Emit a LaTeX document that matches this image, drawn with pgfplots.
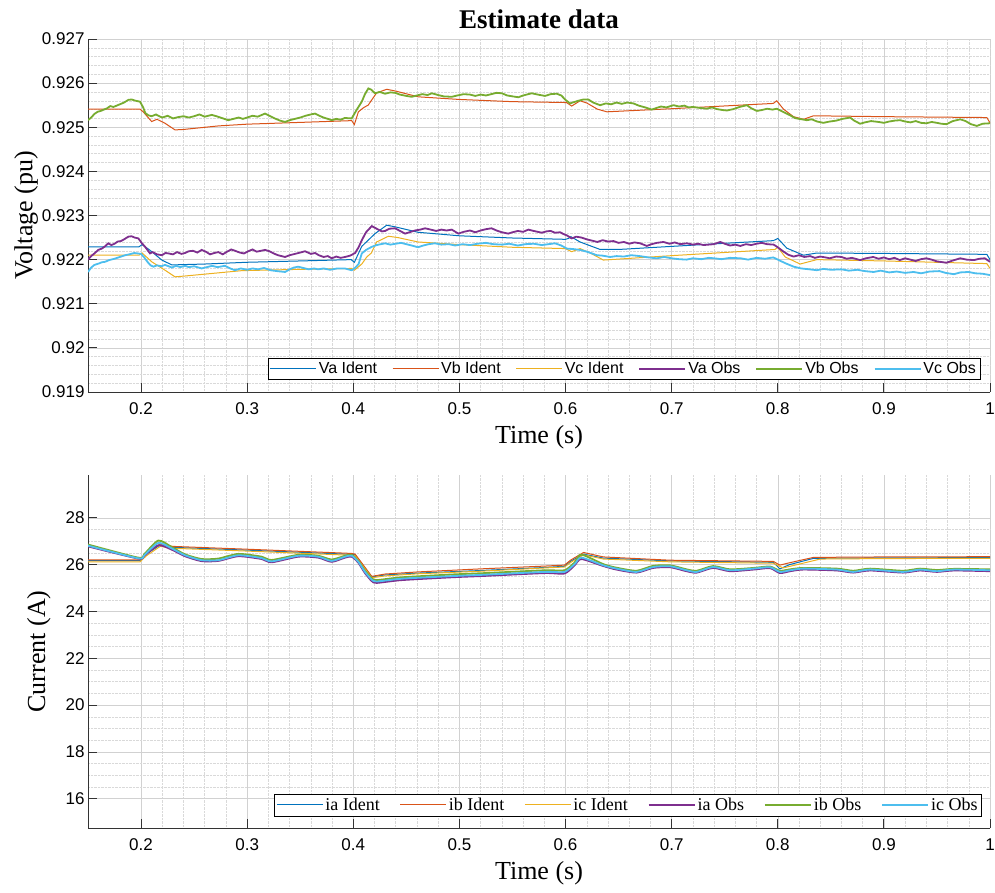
\documentclass[border=0pt]{standalone}
\usepackage{pgfplots}
\pgfplotsset{compat=1.18}
\usepackage{fontspec}
\setmainfont{Liberation Serif}
\setsansfont{Liberation Sans}

\definecolor{mA}{rgb}{0,0.447,0.741}
\definecolor{mB}{rgb}{0.85,0.325,0.098}
\definecolor{mC}{rgb}{0.929,0.694,0.125}
\definecolor{mD}{rgb}{0.494,0.184,0.556}
\definecolor{mE}{rgb}{0.466,0.674,0.188}
\definecolor{mF}{rgb}{0.301,0.745,0.933}

\pgfplotsset{
  legend image code/.code={\draw[#1] (0pt,0pt) -- (46pt,0pt);},
  identA/.style={draw=mA, line width=1pt},
  identB/.style={draw=mB, line width=1pt},
  identC/.style={draw=mC, line width=1pt},
  obsA/.style={draw=mD, line width=1.8pt},
  obsB/.style={draw=mE, line width=1.8pt},
  obsC/.style={draw=mF, line width=1.8pt},
  matlab/.style={
    scale only axis, width=902pt, height=353pt,
    xmin=0.15, xmax=1, xtick={0.2,0.3,...,1.0},
    minor x tick num=4,
    axis x line*=bottom, axis y line*=left,
    axis line style={-, draw=black!80, line width=0.8pt},
    tick align=inside, major tick length=9pt, minor tick length=0pt,
    tick style={black!80, line width=0.8pt},
    grid=both,
    major grid style={black!18, line width=0.5pt},
    minor grid style={black!15, densely dotted, line width=0.5pt},
    /pgf/number format/assume math mode=true,
    ticklabel style={font=\sffamily\fontsize{17}{20}\selectfont},
    xticklabel style={yshift=-7pt},
    label style={font=\fontsize{26}{30}\selectfont},
    xlabel style={yshift=-4pt},
    xlabel={Time (s)},
    legend columns=6,
    legend cell align=left,
    legend style={fill=white, inner sep=2pt},
  }
}

\begin{document}
\begin{tikzpicture}
\useasboundingbox (0,0) rectangle (995pt,892pt);
\node[font=\bfseries\fontsize{27}{32}\selectfont] at (539pt,873pt) {Estimate data};

\begin{axis}[matlab, at={(88pt,500pt)}, anchor=south west,
  ymin=0.919, ymax=0.927, ytick={0.919,0.920,...,0.927},
  minor y tick num=4,
  yticklabel style={/pgf/number format/fixed, /pgf/number format/precision=3},
  ylabel={Voltage (pu)}, ylabel style={yshift=-3pt},
  legend style={at={(0.989,0.0355)}, anchor=south east, font=\sffamily\fontsize{16}{19}\selectfont,
    /tikz/every even column/.append style={column sep=13pt}},
]
\addplot[identA] coordinates {(0.15,0.92229) (0.198,0.92229) (0.201,0.92234) (0.208,0.92222) (0.2196,0.92199) (0.229,0.92188) (0.26,0.92190) (0.3,0.92194) (0.35,0.92197) (0.398,0.92200) (0.401,0.92194) (0.408,0.92230) (0.4205,0.92259) (0.4315,0.92278) (0.44,0.92274) (0.461,0.92262) (0.5,0.92254) (0.55,0.92249) (0.6,0.92246) (0.6027,0.92248) (0.605,0.92252) (0.6137,0.92240) (0.6326,0.92223) (0.65,0.92223) (0.7,0.92230) (0.75,0.92237) (0.7958,0.92243) (0.8,0.92248) (0.8085,0.92226) (0.8242,0.92210) (0.8368,0.92215) (0.9,0.92214) (0.997,0.92212) (1.0,0.92200)};
\addlegendentry{Va Ident}
\addplot[identB] coordinates {(0.15,0.92541) (0.199,0.92541) (0.202,0.92535) (0.206,0.92524) (0.21,0.92513) (0.215,0.92518) (0.2226,0.92509) (0.232,0.92494) (0.24,0.92495) (0.2728,0.92503) (0.3,0.92507) (0.35,0.92511) (0.3985,0.92515) (0.401,0.92506) (0.4048,0.92535) (0.41,0.92545) (0.414,0.92550) (0.4174,0.92562) (0.422,0.92578) (0.4315,0.92586) (0.44,0.92582) (0.461,0.92569) (0.5,0.92563) (0.55,0.92558) (0.601,0.92556) (0.6058,0.92548) (0.6137,0.92560) (0.62,0.92555) (0.63,0.92541) (0.6389,0.92535) (0.7,0.92542) (0.7958,0.92554) (0.799,0.9256) (0.8054,0.92541) (0.8148,0.92524) (0.8243,0.92518) (0.8337,0.92526) (0.9,0.92524) (0.997,0.92522) (1.0,0.9251)};
\addlegendentry{Vb Ident}
\addplot[identC] coordinates {(0.15,0.92210) (0.198,0.92210) (0.201,0.92215) (0.2101,0.92195) (0.2226,0.92176) (0.232,0.92161) (0.242,0.92163) (0.2948,0.92175) (0.35,0.92178) (0.3985,0.92180) (0.401,0.92176) (0.408,0.92190) (0.4127,0.92206) (0.417,0.92215) (0.422,0.92240) (0.4331,0.92253) (0.442,0.92250) (0.461,0.92240) (0.5,0.92234) (0.55,0.92228) (0.6,0.92225) (0.6058,0.92218) (0.6137,0.92225) (0.6232,0.92215) (0.6357,0.92199) (0.7,0.92209) (0.7974,0.92223) (0.8,0.92228) (0.807,0.92206) (0.8211,0.92190) (0.8368,0.92200) (0.9,0.92197) (0.997,0.92191) (1.0,0.92180)};
\addlegendentry{Vc Ident}
\addplot[obsA] coordinates {(0.15,.92200) (.153,.92208) (.156,.92214) (.1597,.92222) (.163,.92225) (.166,.92230) (.1691,.92237) (.172,.92233) (.175,.92236) (.178,.92241) (.181,.92242) (.184,.92246) (.188,.92252) (.191,.92253) (.194,.92250) (.1975,.92248) (.2005,.92238) (.2038,.92229) (.2085,.92214) (.211,.92217) (.215,.92212) (.2196,.92210) (.223,.92215) (.226,.92214) (.23,.92212) (.234,.92217) (.238,.92213) (.2414,.92215) (.245,.92219) (.249,.92220) (.253,.92216) (.2571,.92222) (.261,.92218) (.265,.92212) (.269,.92215) (.2728,.92217) (.277,.92212) (.281,.92218) (.285,.92223) (.2886,.92220) (.293,.92216) (.297,.92214) (.301,.92219) (.305,.92223) (.309,.92218) (.313,.92220) (.3168,.92222) (.321,.92219) (.325,.92214) (.329,.92210) (.3357,.92206) (.34,.92210) (.345,.92213) (.35,.92216) (.3545,.92219) (.36,.92213) (.364,.92215) (.3675,.92210) (.372,.92206) (.376,.92208) (.3797,.92203) (.384,.92207) (.388,.92204) (.3922,.92206) (.397,.92209) (.4017,.92215) (.405,.92228) (.408,.92244) (.412,.92262) (.4174,.92276) (.4205,.92272) (.4236,.92268) (.427,.92264) (.43,.92265) (.434,.92270) (.4394,.92271) (.444,.92265) (.4488,.92259) (.453,.92262) (.458,.92266) (.463,.92268) (.4677,.92271) (.473,.92268) (.478,.92265) (.483,.92268) (.488,.92266) (.4928,.92268) (.499,.92259) (.504,.92263) (.51,.92266) (.515,.92262) (.52,.92266) (.525,.92269) (.5303,.92271) (.535,.92266) (.54,.92262) (.546,.92259) (.55,.92262) (.555,.92265) (.56,.92263) (.565,.92268) (.57,.92265) (.5776,.92261) (.582,.92264) (.586,.92265) (.59,.92261) (.595,.92262) (.598,.92258) (.6012,.92255) (.6058,.92248) (.61,.92252) (.615,.92250) (.62,.92246) (.625,.92243) (.63,.92240) (.635,.92244) (.64,.92241) (.6452,.92242) (.65,.92238) (.655,.92240) (.66,.92236) (.665,.92239) (.6703,.92237) (.6766,.92231) (.681,.92235) (.686,.92238) (.6923,.92240) (.698,.92236) (.703,.92239) (.708,.92235) (.7143,.92237) (.72,.92234) (.725,.92236) (.73,.92233) (.7395,.92235) (.7458,.92240) (.75,.92236) (.755,.92232) (.76,.92234) (.7647,.92231) (.77,.92235) (.775,.92233) (.78,.92236) (.785,.92238) (.79,.92235) (.7961,.92234) (.8,.92228) (.8055,.92218) (.81,.92211) (.815,.92207) (.82,.92210) (.825,.92206) (.8305,.92208) (.835,.92204) (.84,.92207) (.845,.92205) (.849,.92203) (.855,.92207) (.86,.92206) (.865,.92202) (.87,.92204) (.8776,.92199) (.883,.92203) (.89,.92206) (.895,.92202) (.9,.92205) (.905,.92201) (.91,.92204) (.915,.92199) (.92,.92203) (.925,.92200) (.93,.92197) (.935,.92201) (.94,.92203) (.945,.92200) (.95,.92196) (.9588,.92193) (.965,.92198) (.972,.92203) (.978,.92200) (.985,.92199) (.99,.92202) (.995,.92203) (1.0,.92195)};
\addlegendentry{Va Obs}
\addplot[obsB] coordinates {(.15,.92516) (.153,.92522) (.156,.92530) (.159,.92535) (.162,.92537) (.165,.92540) (.168,.92543) (.171,.92548) (.174,.92546) (.177,.92549) (.18,.92552) (.184,.92556) (.188,.92562) (.191,.92563) (.195,.92560) (.199,.92558) (.202,.92545) (.204,.92532) (.207,.92527) (.21,.92525) (.214,.92529) (.218,.92524) (.22,.92522) (.225,.92526) (.23,.92520) (.235,.92523) (.24,.92525) (.245,.92522) (.25,.92525) (.255,.92529) (.26,.92524) (.2666,.92528) (.271,.92525) (.276,.92521) (.2822,.92516) (.287,.92519) (.292,.92522) (.296,.92519) (.3,.92522) (.305,.92526) (.31,.92524) (.3168,.92531) (.321,.92526) (.326,.92520) (.331,.92515) (.3357,.92512) (.34,.92516) (.345,.92519) (.35,.92522) (.355,.92526) (.36,.92529) (.364,.92531) (.368,.92526) (.372,.92522) (.376,.92519) (.3797,.92516) (.384,.92519) (.388,.92517) (.392,.92521) (.3985,.92520) (.4033,.92540) (.408,.92558) (.411,.92575) (.4142,.92588) (.417,.92585) (.4205,.92577) (.425,.92580) (.43,.92576) (.435,.92579) (.4394,.92578) (.444,.92574) (.45,.92571) (.455,.92569) (.46,.92572) (.465,.92575) (.47,.92573) (.474,.92577) (.48,.92573) (.485,.92570) (.4928,.92569) (.498,.92572) (.504,.92575) (.51,.92574) (.515,.92571) (.52,.92574) (.525,.92572) (.53,.92575) (.535,.92578) (.54,.92577) (.545,.92572) (.55,.92570) (.5556,.92568) (.56,.92572) (.5682,.92577) (.574,.92574) (.5807,.92571) (.586,.92575) (.5917,.92576) (.596,.92572) (.6,.92562) (.6043,.92554) (.608,.92557) (.612,.92560) (.617,.92563) (.6215,.92563) (.626,.92556) (.6326,.92550) (.638,.92554) (.643,.92552) (.648,.92556) (.653,.92553) (.658,.92556) (.664,.92554) (.669,.92549) (.675,.92545) (.6813,.92540) (.686,.92544) (.69,.92547) (.695,.92545) (.7018,.92550) (.707,.92547) (.712,.92549) (.716,.92545) (.72,.92546) (.726,.92544) (.7332,.92542) (.738,.92545) (.743,.92541) (.748,.92539) (.752,.92538) (.758,.92541) (.764,.92546) (.7709,.92550) (.775,.92543) (.7803,.92537) (.785,.92539) (.79,.92542) (.795,.92540) (.7991,.92542) (.805,.92535) (.8117,.92527) (.816,.92521) (.82,.92519) (.8274,.92516) (.832,.92518) (.837,.92513) (.843,.92510) (.849,.92513) (.855,.92515) (.861,.92519) (.8682,.92522) (.872,.92515) (.8776,.92508) (.882,.92511) (.888,.92514) (.895,.92512) (.9,.92510) (.905,.92513) (.91,.92515) (.9153,.92516) (.92,.92513) (.925,.92511) (.93,.92514) (.935,.92510) (.94,.92509) (.945,.92512) (.95,.92510) (.954,.92508) (.959,.92507) (.965,.92514) (.972,.92518) (.977,.92514) (.982,.92507) (.9876,.92503) (.993,.92508) (1.0,.92509)};
\addlegendentry{Vb Obs}
\addplot[obsC] coordinates {(.15,.92172) (.153,.92182) (.156,.92188) (.16,.92191) (.163,.92194) (.166,.92195) (.17,.92199) (.175,.92202) (.18,.92206) (.185,.92210) (.189,.92212) (.1935,.92215) (.197,.92214) (.2,.92213) (.203,.92205) (.206,.92195) (.209,.92187) (.2117,.92184) (.215,.92187) (.219,.92185) (.2226,.92188) (.226,.92185) (.229,.92182) (.233,.92186) (.237,.92183) (.2414,.92186) (.245,.92183) (.25,.92185) (.2571,.92180) (.262,.92183) (.267,.92186) (.272,.92183) (.2791,.92186) (.284,.92180) (.2886,.92176) (.294,.92180) (.3,.92177) (.305,.92180) (.31,.92178) (.316,.92181) (.322,.92176) (.328,.92174) (.3357,.92172) (.34,.92178) (.344,.92182) (.348,.92184) (.353,.92181) (.358,.92178) (.363,.92180) (.367,.92178) (.372,.92180) (.378,.92177) (.385,.92180) (.392,.92180) (.3985,.92176) (.402,.92182) (.405,.92190) (.408,.92214) (.412,.92222) (.4174,.92229) (.422,.92233) (.426,.92235) (.43,.92237) (.435,.92234) (.44,.92236) (.445,.92238) (.45,.92235) (.455,.92232) (.461,.92228) (.466,.92232) (.471,.92235) (.477,.92237) (.483,.92234) (.49,.92235) (.496,.92232) (.503,.92235) (.51,.92233) (.517,.92236) (.525,.92238) (.532,.92235) (.54,.92234) (.547,.92236) (.555,.92232) (.562,.92235) (.57,.92236) (.5776,.92233) (.584,.92235) (.59,.92237) (.596,.92232) (.6012,.92225) (.607,.92224) (.6137,.92222) (.62,.92218) (.625,.92214) (.6295,.92210) (.635,.92209) (.642,.92206) (.648,.92208) (.655,.92207) (.662,.92210) (.67,.92208) (.678,.92205) (.686,.92203) (.693,.92206) (.7,.92203) (.707,.92201) (.714,.92200) (.72,.92203) (.728,.92201) (.735,.92204) (.74,.92203) (.747,.92201) (.755,.92204) (.765,.92203) (.772,.92200) (.78,.92204) (.788,.92202) (.7958,.92205) (.8,.92200) (.807,.92192) (.815,.92184) (.822,.92180) (.83,.92178) (.8368,.92176) (.843,.92179) (.85,.92177) (.86,.92178) (.867,.92175) (.875,.92177) (.882,.92174) (.8902,.92172) (.897,.92175) (.905,.92171) (.912,.92173) (.92,.92170) (.928,.92172) (.935,.92169) (.943,.92173) (.9524,.92174) (.958,.92170) (.966,.92167) (.972,.92171) (.98,.92172) (.986,.92169) (.993,.92168) (1.0,.92165)};
\addlegendentry{Vc Obs}
\end{axis}

\begin{axis}[matlab, at={(88pt,64pt)}, anchor=south west,
  ymin=14.75, ymax=29.83, ytick={16,18,...,28},
  minor y tick num=3,
  ylabel={Current (A)}, ylabel style={yshift=8pt},
  legend style={at={(0.991,0.034)}, anchor=south east, font=\fontsize{18}{21}\selectfont,
    /tikz/every even column/.append style={column sep=18pt}},
]
\addplot[identA] coordinates {(0.15,26.17) (0.199,26.17) (0.205,26.45) (0.218,26.84) (0.23,26.74) (0.3,26.62) (0.3985,26.44) (0.4017,26.42) (0.4174,25.48) (0.43,25.56) (0.461,25.64) (0.52,25.75) (0.5807,25.88) (0.599,25.93) (0.605,26.15) (0.617,26.45) (0.6357,26.28) (0.6986,26.16) (0.7958,26.10) (0.802,25.82) (0.811,26.00) (0.8337,26.27) (0.9,26.29) (1.0,26.30)};
\addlegendentry{ia Ident}
\addplot[identB] coordinates {(0.15,26.20) (0.199,26.20) (0.205,26.48) (0.218,26.88) (0.23,26.78) (0.3,26.66) (0.3985,26.48) (0.4017,26.45) (0.4174,25.50) (0.43,25.60) (0.461,25.69) (0.52,25.82) (0.5807,25.94) (0.599,25.98) (0.605,26.20) (0.617,26.52) (0.6357,26.33) (0.6986,26.19) (0.7958,26.14) (0.802,25.98) (0.811,26.08) (0.8337,26.31) (0.9,26.33) (1.0,26.34)};
\addlegendentry{ib Ident}
\addplot[identC] coordinates {(0.15,26.12) (0.199,26.12) (0.205,26.38) (0.218,26.78) (0.23,26.70) (0.3,26.58) (0.3985,26.40) (0.4017,26.38) (0.4174,25.44) (0.43,25.52) (0.461,25.61) (0.52,25.72) (0.5807,25.86) (0.599,25.90) (0.605,26.10) (0.617,26.42) (0.6357,26.24) (0.6986,26.12) (0.7958,26.06) (0.805,25.86) (0.82,26.02) (0.84,26.24) (0.9,26.26) (1.0,26.27)};
\addlegendentry{ic Ident}
\addplot[obsA, smooth, tension=0.4] coordinates {(0.15,26.78) (0.1974,26.26) (0.203,26.38) (0.2163,26.83) (0.229,26.64) (0.2414,26.36) (0.2571,26.15) (0.2728,26.16) (0.2917,26.36) (0.3137,26.24) (0.3231,26.10) (0.3482,26.34) (0.367,26.30) (0.3796,26.12) (0.3922,26.30) (0.3985,26.34) (0.4048,26.08) (0.411,25.64) (0.4174,25.30) (0.422,25.22) (0.4456,25.34) (0.4928,25.46) (0.524,25.52) (0.5807,25.64) (0.599,25.62) (0.6087,25.98) (0.6149,26.24) (0.6357,25.94) (0.648,25.79) (0.6669,25.66) (0.6826,25.86) (0.6986,25.89) (0.714,25.72) (0.7237,25.66) (0.739,25.86) (0.755,25.72) (0.777,25.79) (0.7927,25.85) (0.802,25.64) (0.8117,25.72) (0.824,25.79) (0.856,25.75) (0.871,25.66) (0.887,25.75) (0.918,25.66) (0.934,25.75) (0.95,25.69) (0.966,25.75) (1.0,25.72)};
\addlegendentry{ia Obs}
\addplot[obsB, smooth, tension=0.4] coordinates {(0.15,26.86) (0.1974,26.30) (0.203,26.45) (0.2163,27.03) (0.229,26.75) (0.2414,26.44) (0.2571,26.24) (0.2728,26.26) (0.2917,26.46) (0.3137,26.34) (0.3231,26.20) (0.3482,26.42) (0.367,26.38) (0.3796,26.22) (0.3922,26.38) (0.3985,26.42) (0.4048,26.15) (0.411,25.74) (0.4174,25.42) (0.422,25.34) (0.4456,25.46) (0.4928,25.58) (0.524,25.64) (0.5807,25.76) (0.599,25.76) (0.6087,26.10) (0.6149,26.43) (0.6357,26.02) (0.648,25.87) (0.6669,25.74) (0.6826,25.95) (0.6986,25.97) (0.714,25.80) (0.7237,25.74) (0.739,25.94) (0.755,25.80) (0.777,25.86) (0.7927,25.92) (0.802,25.74) (0.8117,25.80) (0.824,25.86) (0.856,25.83) (0.871,25.74) (0.887,25.83) (0.918,25.74) (0.934,25.83) (0.95,25.77) (0.966,25.82) (1.0,25.80)};
\addlegendentry{ib Obs}
\addplot[obsC, smooth, tension=0.4] coordinates {(0.15,26.81) (0.1974,26.27) (0.203,26.40) (0.2163,26.93) (0.229,26.69) (0.2414,26.40) (0.2571,26.19) (0.2728,26.19) (0.2917,26.40) (0.3137,26.28) (0.3231,26.14) (0.3482,26.38) (0.367,26.34) (0.3796,26.16) (0.3922,26.34) (0.3985,26.38) (0.4048,26.12) (0.411,25.69) (0.4174,25.36) (0.422,25.28) (0.4456,25.40) (0.4928,25.51) (0.524,25.57) (0.5807,25.69) (0.599,25.69) (0.6087,26.03) (0.6149,26.30) (0.6357,25.97) (0.648,25.83) (0.6669,25.69) (0.6826,25.90) (0.6986,25.93) (0.714,25.76) (0.7237,25.69) (0.739,25.90) (0.755,25.76) (0.777,25.83) (0.7927,25.89) (0.802,25.69) (0.8117,25.76) (0.824,25.83) (0.856,25.79) (0.871,25.69) (0.887,25.79) (0.918,25.69) (0.934,25.79) (0.95,25.72) (0.966,25.79) (1.0,25.76)};
\addlegendentry{ic Obs}
\end{axis}
\end{tikzpicture}
\end{document}
